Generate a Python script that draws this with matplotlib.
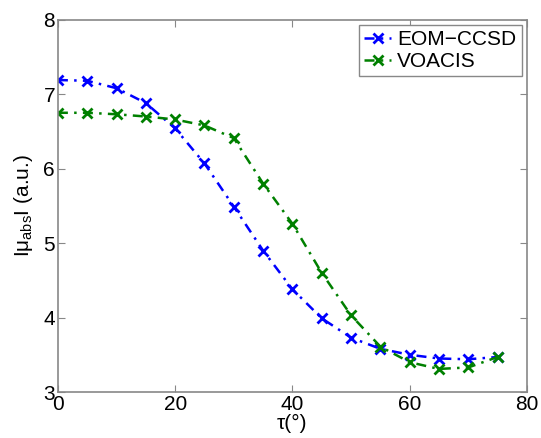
import matplotlib
matplotlib.use("Agg")
from matplotlib import pyplot as plt

tau = [0, 5, 10, 15, 20, 25, 30, 35, 40, 45, 50, 55, 60, 65, 70, 75]
eom_ccsd = [7.19, 7.18, 7.08, 6.88, 6.54, 6.07, 5.49, 4.90, 4.38, 3.99,
            3.73, 3.58, 3.50, 3.45, 3.44, 3.47]
voacis = [6.75, 6.75, 6.73, 6.70, 6.66, 6.58, 6.41, 5.80, 5.26, 4.60,
          4.03, 3.61, 3.40, 3.31, 3.33, 3.47]

plt.rcParams['font.family'] = ['Liberation Sans', 'DejaVu Sans']
plt.rcParams['mathtext.fontset'] = 'custom'
plt.rcParams['mathtext.rm'] = 'Liberation Sans'
plt.rcParams['mathtext.it'] = 'Liberation Sans'

fig = plt.figure(figsize=(5.41, 4.38), dpi=100)
ax = fig.add_axes([0.107, 0.105, 0.867, 0.85])

dash = (0, (4, 2.5, 1, 2.5))
ax.plot(tau, eom_ccsd, color='#0000ff', linestyle=dash, linewidth=1.8,
        marker='x', markersize=7, markeredgewidth=2, label='EOM\u2212CCSD')
ax.plot(tau, voacis, color='#008000', linestyle=dash, linewidth=1.8,
        marker='x', markersize=7, markeredgewidth=2, label='VOACIS')

ax.set_xlim(0, 80)
ax.set_ylim(3, 8)
ax.set_xticks([0, 20, 40, 60, 80])
ax.set_yticks([3, 4, 5, 6, 7, 8])

for s in ax.spines.values():
    s.set_color('#888888')
    s.set_linewidth(1.2)
ax.tick_params(direction='in', top=True, right=True, color='#888888',
               length=5, labelsize=15, pad=2)

ax.set_xlabel('\u03c4(\u00b0)', fontsize=15, labelpad=0)
ax.set_ylabel(r'I$\mu_{\rm abs}$I (a.u.)', fontsize=15, labelpad=6)

leg = ax.legend(loc='upper right', fontsize=15, fancybox=False,
                framealpha=1, borderpad=0.25, handlelength=1.3,
                handletextpad=0.3, labelspacing=0.15, borderaxespad=0.25)
leg.get_frame().set_edgecolor('#888888')
leg.get_frame().set_linewidth(1.0)

fig.savefig('out.png', dpi=100)
